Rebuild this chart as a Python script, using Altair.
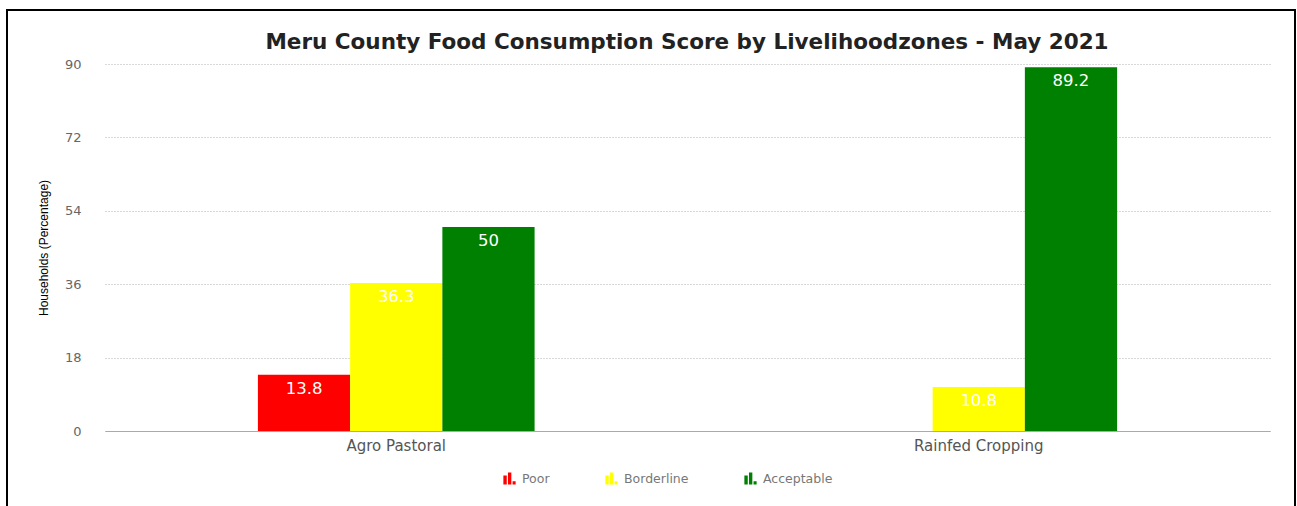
import altair as alt
import pandas as pd

zones = ["Agro Pastoral", "Rainfed Cropping"]
series = ["Poor", "Borderline", "Acceptable"]
colors = ["#ff0000", "#ffff00", "#008000"]
poor = [13.8, None]
borderline = [36.3, 10.8]
acceptable = [50, 89.2]
y_ticks = [0, 18, 36, 54, 72, 90]
title_text = "Meru County Food Consumption Score by Livelihoodzones - May 2021"

rows = []
for s, vals in zip(series, [poor, borderline, acceptable]):
    for z, v in zip(zones, vals):
        rows.append({"zone": z, "series": s, "value": v})
df = pd.DataFrame(rows)

W, H = 1165, 367
PL, PT = 105, 64

bar_icon = ("M-1,1 L-1,-0.5 L-0.45,-0.5 L-0.45,1 Z "
            "M-0.25,1 L-0.25,-1 L0.3,-1 L0.3,1 Z "
            "M0.5,1 L0.5,0.45 L1,0.45 L1,1 Z")

base = alt.Chart(df).encode(
    x=alt.X("zone:N", sort=zones,
            scale=alt.Scale(paddingInner=0.525, paddingOuter=0.2625),
            axis=alt.Axis(title=None, labelAngle=0, ticks=False,
                          labelFont="DejaVu Sans", labelFontSize=15,
                          labelColor="#555555", labelPadding=7,
                          domainColor="#aaaaaa", domainWidth=1, grid=False)),
    xOffset=alt.XOffset("series:N", sort=series,
                        scale=alt.Scale(domain=series, paddingInner=0, paddingOuter=0)),
)

bars = base.mark_bar().encode(
    y=alt.Y("value:Q",
            scale=alt.Scale(domain=[0, 90], nice=False),
            axis=alt.Axis(values=y_ticks, title="Households (Percentage)",
                          titleFont="Liberation Sans", titleFontSize=12,
                          titleFontWeight="normal", titleColor="#000000",
                          titleAngle=-90, titleX=-55, titleY=H / 2,
                          titleBaseline="bottom", titleAlign="center",
                          labelFont="DejaVu Sans", labelFontSize=13,
                          labelColor="#666666", labelPadding=24,
                          ticks=False, domain=False,
                          gridColor="#b0b0b0", gridDash=[1, 2], gridWidth=1)),
    color=alt.Color("series:N", sort=series,
                    scale=alt.Scale(domain=series, range=colors),
                    legend=alt.Legend(title=None, orient="none",
                                      direction="horizontal",
                                      legendX=398, legendY=408,
                                      symbolType=bar_icon, symbolSize=150,
                                      symbolStrokeWidth=0, symbolOpacity=1,
                                      labelFont="DejaVu Sans", labelFontSize=12.5,
                                      labelColor="#777777", columnPadding=55,
                                      labelOffset=6)),
)

labels = base.mark_text(color="white", font="DejaVu Sans", fontSize=16.5,
                        baseline="middle", dy=14).encode(
    y=alt.Y("value:Q"),
    text=alt.Text("value:Q"),
)

one = pd.DataFrame({"t": [title_text]})

title = alt.Chart(one).mark_text(
    font="DejaVu Sans", fontSize=21.5, fontWeight="bold", color="#222222",
    align="center", baseline="middle").encode(
    x=alt.value(687 - PL), y=alt.value(43 - PT), text="t:N")

frame = alt.Chart(one).mark_rect(
    fill=None, stroke="black", strokeWidth=2).encode(
    x=alt.value(7 - PL), x2=alt.value(1295 - PL),
    y=alt.value(10 - PT), y2=alt.value(530 - PT))

chart = alt.layer(bars, labels, title, frame).properties(
    width=W, height=H,
    background="white",
    autosize=alt.AutoSizeParams(type="none"),
    padding={"left": PL, "top": PT, "right": 1297 - PL - W, "bottom": 506 - PT - H},
).configure_view(strokeWidth=0)

chart.save("out.html", embed_options={"renderer": "svg", "actions": False})
